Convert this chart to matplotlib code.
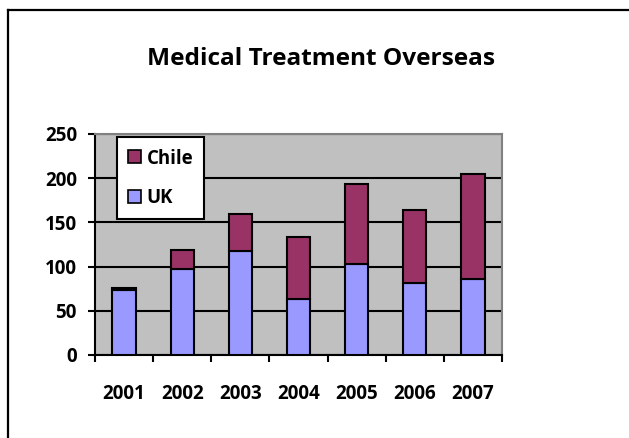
import matplotlib
matplotlib.use("Agg")
import matplotlib.pyplot as plt
from matplotlib.lines import Line2D
from matplotlib.patches import Patch
import numpy as np

years = ["2001", "2002", "2003", "2004", "2005", "2006", "2007"]
uk = [73, 97, 118, 63, 103, 81, 86]
chile = [3, 22, 41, 70, 90, 83, 119]
title = "Medical Treatment Overseas"

FONT = ['Open Sans', 'DejaVu Sans']
plt.rcParams['font.family'] = FONT
plt.rcParams['font.weight'] = 'bold'

W, H = 629, 438
fig = plt.figure(figsize=(W / 100, H / 100), dpi=100)
fig.patch.set_facecolor('white')
renderer = fig.canvas.get_renderer()


def fit_size(text, target_px, start=12.0):
    t = fig.text(0, 0, text, fontsize=start, fontweight='bold')
    w = t.get_window_extent(renderer).width
    t.remove()
    return start * target_px / w


title_fs = fit_size(title, 348)
tick_fs = fit_size("2001", 42.6)
leg_fs = fit_size("Chile", 46.7)

# plot area in pixels
left, right, top, bottom = 95, 502, 134, 355
ax = fig.add_axes([left / W, 1 - bottom / H, (right - left) / W, (bottom - top) / H])
ax.set_facecolor('#C0C0C0')

x = np.arange(len(years))
ax.bar(x, uk, width=0.4, color='#9999FF', edgecolor='black', linewidth=1.5, zorder=3, label='UK')
ax.bar(x, chile, width=0.4, bottom=uk, color='#993366', edgecolor='black', linewidth=1.5, zorder=3, label='Chile')

ax.set_xlim(-0.5, len(years) - 0.5)
ax.set_ylim(0, 250)
ax.set_yticks([0, 50, 100, 150, 200, 250])
ax.yaxis.grid(True, color='black', linewidth=1.5, zorder=1)
ax.set_axisbelow(True)

# x ticks at category boundaries, labels centered
ax.set_xticks(np.arange(-0.5, len(years), 1.0))
ax.set_xticklabels([])
ax.set_xticks(x, minor=True)
ax.set_xticklabels(years, minor=True, fontsize=tick_fs, fontweight='bold')
ax.tick_params(axis='x', which='minor', length=0, pad=21)
ax.tick_params(axis='x', which='major', length=5, width=1.5, direction='out')
ax.tick_params(axis='y', length=5, width=1.5, direction='out', pad=8, labelsize=tick_fs)
for lab in ax.get_yticklabels():
    lab.set_fontweight('bold')

for s in ['left', 'bottom']:
    ax.spines[s].set_color('black')
    ax.spines[s].set_linewidth(1.5)
for s in ['top', 'right']:
    ax.spines[s].set_color('#808080')
    ax.spines[s].set_linewidth(1.5)

leg_px = leg_fs * 100 / 72
handles = [Patch(facecolor='#993366', edgecolor='black', linewidth=1.2),
           Patch(facecolor='#9999FF', edgecolor='black', linewidth=1.2)]
leg = ax.legend(handles, ['Chile', 'UK'], loc='upper left',
                bbox_to_anchor=((116.7 - left) / (right - left), 1 - (137.3 - top) / (bottom - top)),
                borderaxespad=0, fancybox=False, framealpha=1, edgecolor='black',
                prop={'weight': 'bold', 'size': leg_fs, 'family': FONT},
                handlelength=13 / leg_px, handleheight=13 / leg_px,
                handletextpad=5.5 / leg_px, labelspacing=(37.7 - leg_px * 1.2) / leg_px + 0.24,
                borderpad=0.6)
leg.get_frame().set_linewidth(1.5)
leg.set_zorder(5)

fig.text(321 / W, 1 - 65 / H, title, ha='center', va='baseline', fontsize=title_fs, fontweight='bold')

# chart border (left and top edges visible)
fig.add_artist(Line2D([8 / W, 8 / W], [0, 1 - 10 / H], color='black', linewidth=1.6, transform=fig.transFigure))
fig.add_artist(Line2D([8 / W, 1], [1 - 10 / H, 1 - 10 / H], color='black', linewidth=1.6, transform=fig.transFigure))

fig.savefig('out.png', dpi=100)
